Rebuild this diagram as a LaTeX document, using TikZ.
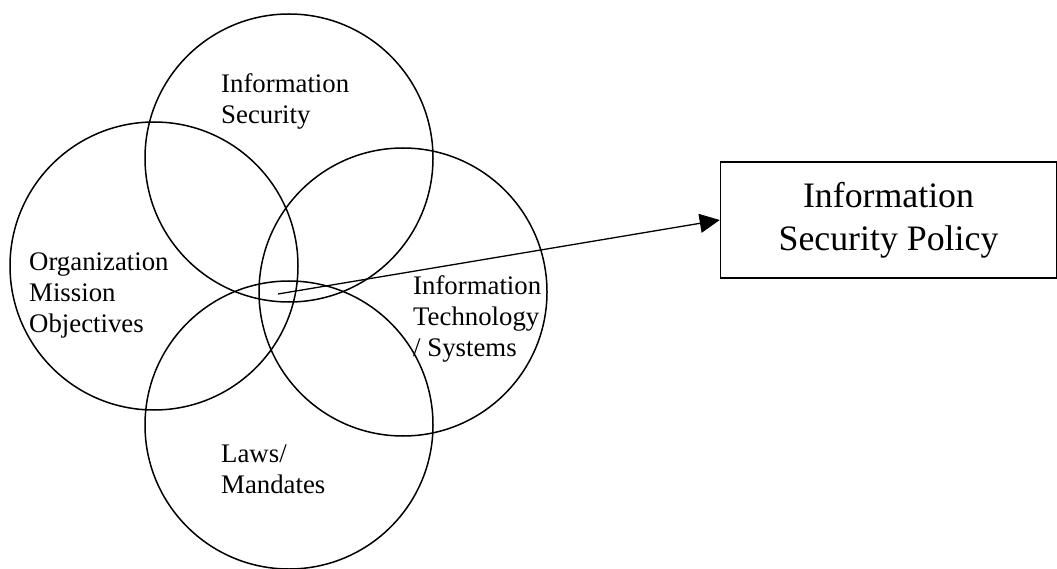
\documentclass[tikz,border=0pt]{standalone}
\usepackage{fontspec}
\setmainfont{Liberation Serif}
\usetikzlibrary{arrows.meta}
\begin{document}
\begin{tikzpicture}[x=1pt,y=-1pt,
  ring/.style={draw,circle,line width=1.5pt,minimum size=288pt,inner sep=0pt},
  lbl/.style={anchor=base west,inner sep=0pt,align=left,font=\fontsize{26.8}{31}\selectfont},
  policybox/.style={draw,line width=1.5pt,minimum width=336pt,minimum height=116pt,inner sep=0pt,align=center,font=\fontsize{35.8}{43}\selectfont},
  link/.style={line width=1.3pt,-{Triangle[length=20pt,width=19pt]}}]
\useasboundingbox (0,0) rectangle (1057,569);
\node[ring] (security) at (289,158) {};
\node[ring] (mission) at (154,266) {};
\node[ring] (tech) at (403,292) {};
\node[ring] (laws) at (289,425) {};
\node[lbl] (tsec) at (221,124) {Information\\Security};
\node[lbl] (tmis) at (29,332) {Organization\\Mission\\Objectives};
\node[lbl] (ttech) at (413,356) {Information\\Technology\\/ Systems};
\node[lbl] (tlaws) at (221,493) {Laws/\\Mandates};
\node[policybox] (policy) at (888.5,220) {\raisebox{-2pt}{Information}\\\raisebox{-2pt}{Security Policy}};
\coordinate (start) at (278,294);
\draw[link] (start) -- (policy.west);
\end{tikzpicture}
\end{document}
